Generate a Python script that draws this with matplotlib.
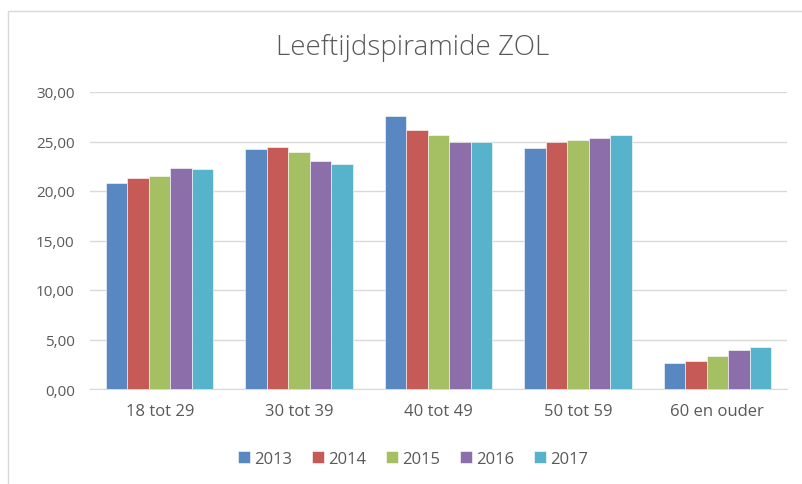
import matplotlib.pyplot as plt
import numpy as np
from matplotlib.patches import Rectangle

# leeftijdsgroepen en percentages per jaar
categories = ["18 tot 29", "30 tot 39", "40 tot 49", "50 tot 59", "60 en ouder"]
years = ["2013", "2014", "2015", "2016", "2017"]
v2013 = [20.8, 24.2, 27.6, 24.3, 2.65]
v2014 = [21.3, 24.4, 26.2, 24.9, 2.85]
v2015 = [21.5, 23.9, 25.7, 25.2, 3.3]
v2016 = [22.3, 23.0, 24.9, 25.4, 3.9]
v2017 = [22.2, 22.7, 24.9, 25.7, 4.2]
series = [v2013, v2014, v2015, v2016, v2017]
colors = ["#5887C1", "#C55A57", "#A5C063", "#8C6FAA", "#56B3CB"]

plt.rcParams["font.family"] = ["Open Sans", "DejaVu Sans"]

fig = plt.figure(figsize=(8.03, 4.85), dpi=100)
ax = fig.add_axes([90 / 803, 1 - 390 / 485, 697 / 803, 297 / 485])

# rand rond de grafiek
fig.patches.append(Rectangle((8 / 803, -0.1), 1.1, 1 - 12 / 485 + 0.1,
                             transform=fig.transFigure, fill=False,
                             edgecolor="#d9d9d9", linewidth=1))

x = np.arange(len(categories))
w = 0.77 / 5
for i, (vals, c, yr) in enumerate(zip(series, colors, years)):
    ax.bar(x + (i - 2) * w, vals, width=w, color=c, edgecolor="white",
           linewidth=0.4, label=yr, zorder=3)

ax.set_xlim(-0.5, 4.5)
ax.set_ylim(0, 30)
ax.set_yticks(np.arange(0, 31, 5))
ax.set_yticklabels([f"{v:.2f}".replace(".", ",") for v in np.arange(0, 31, 5)])
ax.set_xticks(x)
ax.set_xticklabels(categories)
ax.grid(axis="y", color="#d9d9d9", linewidth=1, zorder=0)
for s in ["top", "right", "left"]:
    ax.spines[s].set_visible(False)
ax.spines["bottom"].set_color("#d9d9d9")
ax.tick_params(length=0, colors="#595959")
ax.tick_params(axis="x", pad=10, labelsize=12)
ax.tick_params(axis="y", pad=11, labelsize=11)

fig.text(413 / 803, 1 - 48 / 485, "Leeftijdspiramide ZOL", ha="center",
         va="center", fontsize=20, color="#595959", fontweight="light")

ax.legend(loc="center", bbox_to_anchor=(413 / 803, 1 - 460 / 485),
          bbox_transform=fig.transFigure, ncol=5, frameon=False,
          fontsize=12, labelcolor="#595959", handlelength=0.7,
          handleheight=0.7, handletextpad=0.25, columnspacing=1.2)

fig.savefig("out.png", dpi=100)
